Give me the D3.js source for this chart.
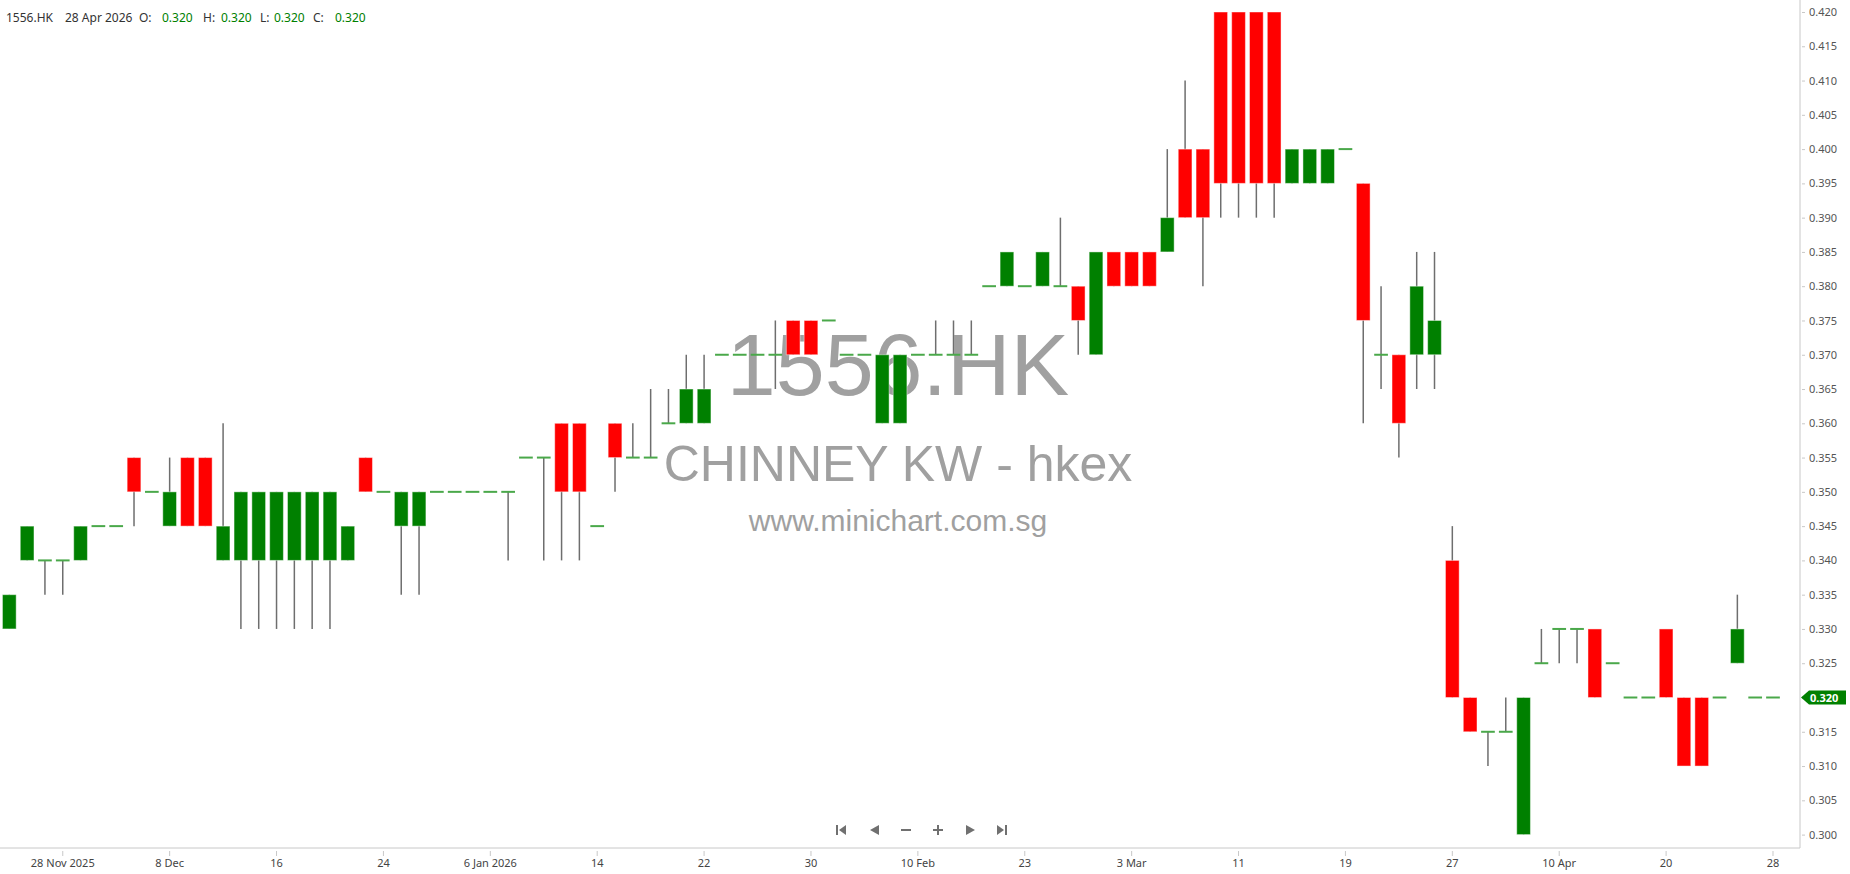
<!DOCTYPE html>
<html>
<head>
<meta charset="utf-8">
<script src="https://cdn.jsdelivr.net/npm/d3@7"></script>
<style>
  body { margin: 0; background: #fff; }
  svg { display: block; font-family: "Noto Sans", "DejaVu Sans", sans-serif; }
</style>
</head>
<body>
<svg id="chart"></svg>
<script>
const width = 1850;
const height = 874;
const plotRight = 1800;
const axisBottomY = 848;

// OHLC per trading day, 25 Nov 2025 .. 28 Apr 2026
const opens = [
  0.330, 0.340, 0.340, 0.340, 0.340, 0.345, 0.345, 0.355, 0.350, 0.345,
  0.355, 0.355, 0.340, 0.340, 0.340, 0.340, 0.340, 0.340, 0.340, 0.340,
  0.355, 0.350, 0.345, 0.345, 0.350, 0.350, 0.350, 0.350, 0.350, 0.355,
  0.355, 0.360, 0.360, 0.345, 0.360, 0.355, 0.355, 0.360, 0.360, 0.360,
  0.370, 0.370, 0.370, 0.370, 0.375, 0.375, 0.375, 0.370, 0.370, 0.360,
  0.360, 0.370, 0.370, 0.370, 0.370, 0.380, 0.380, 0.380, 0.380, 0.380,
  0.380, 0.370, 0.385, 0.385, 0.385, 0.385, 0.400, 0.400, 0.420, 0.420,
  0.420, 0.420, 0.395, 0.395, 0.395, 0.400, 0.395, 0.370, 0.370, 0.370,
  0.370, 0.340, 0.320, 0.315, 0.315, 0.300, 0.325, 0.330, 0.330, 0.330,
  0.325, 0.320, 0.320, 0.330, 0.320, 0.320, 0.320, 0.325, 0.320, 0.320
];
const highs = [
  0.335, 0.345, 0.340, 0.340, 0.345, 0.345, 0.345, 0.355, 0.350, 0.355,
  0.355, 0.355, 0.360, 0.350, 0.350, 0.350, 0.350, 0.350, 0.350, 0.345,
  0.355, 0.350, 0.350, 0.350, 0.350, 0.350, 0.350, 0.350, 0.350, 0.355,
  0.355, 0.360, 0.360, 0.345, 0.360, 0.360, 0.365, 0.365, 0.370, 0.370,
  0.370, 0.370, 0.370, 0.375, 0.375, 0.375, 0.375, 0.370, 0.370, 0.370,
  0.370, 0.370, 0.375, 0.375, 0.375, 0.380, 0.385, 0.380, 0.385, 0.390,
  0.380, 0.385, 0.385, 0.385, 0.385, 0.400, 0.410, 0.400, 0.420, 0.420,
  0.420, 0.420, 0.400, 0.400, 0.400, 0.400, 0.395, 0.380, 0.370, 0.385,
  0.385, 0.345, 0.320, 0.315, 0.320, 0.320, 0.330, 0.330, 0.330, 0.330,
  0.325, 0.320, 0.320, 0.330, 0.320, 0.320, 0.320, 0.335, 0.320, 0.320
];
const lows = [
  0.330, 0.340, 0.335, 0.335, 0.340, 0.345, 0.345, 0.345, 0.350, 0.345,
  0.345, 0.345, 0.340, 0.330, 0.330, 0.330, 0.330, 0.330, 0.330, 0.340,
  0.350, 0.350, 0.335, 0.335, 0.350, 0.350, 0.350, 0.350, 0.340, 0.355,
  0.340, 0.340, 0.340, 0.345, 0.350, 0.355, 0.355, 0.360, 0.360, 0.360,
  0.370, 0.370, 0.370, 0.365, 0.370, 0.370, 0.375, 0.370, 0.370, 0.360,
  0.360, 0.370, 0.370, 0.370, 0.370, 0.380, 0.380, 0.380, 0.380, 0.380,
  0.370, 0.370, 0.380, 0.380, 0.380, 0.385, 0.390, 0.380, 0.390, 0.390,
  0.390, 0.390, 0.395, 0.395, 0.395, 0.400, 0.360, 0.365, 0.355, 0.365,
  0.365, 0.320, 0.315, 0.310, 0.315, 0.300, 0.325, 0.325, 0.325, 0.320,
  0.325, 0.320, 0.320, 0.320, 0.310, 0.310, 0.320, 0.325, 0.320, 0.320
];
const closes = [
  0.335, 0.345, 0.340, 0.340, 0.345, 0.345, 0.345, 0.350, 0.350, 0.350,
  0.345, 0.345, 0.345, 0.350, 0.350, 0.350, 0.350, 0.350, 0.350, 0.345,
  0.350, 0.350, 0.350, 0.350, 0.350, 0.350, 0.350, 0.350, 0.350, 0.355,
  0.355, 0.350, 0.350, 0.345, 0.355, 0.355, 0.355, 0.360, 0.365, 0.365,
  0.370, 0.370, 0.370, 0.370, 0.370, 0.370, 0.375, 0.370, 0.370, 0.370,
  0.370, 0.370, 0.370, 0.370, 0.370, 0.380, 0.385, 0.380, 0.385, 0.380,
  0.375, 0.385, 0.380, 0.380, 0.380, 0.390, 0.390, 0.390, 0.395, 0.395,
  0.395, 0.395, 0.400, 0.400, 0.400, 0.400, 0.375, 0.370, 0.360, 0.380,
  0.375, 0.320, 0.315, 0.315, 0.315, 0.320, 0.325, 0.330, 0.330, 0.320,
  0.325, 0.320, 0.320, 0.320, 0.310, 0.310, 0.320, 0.330, 0.320, 0.320
];

const tickIdx = [3, 9, 15, 21, 27, 33, 39, 45, 51, 57, 63, 69, 75, 81, 87, 93, 99];
const tickLabels = ["28 Nov 2025", "8 Dec", "16", "24", "6 Jan 2026", "14", "22", "30",
  "10 Feb", "23", "3 Mar", "11", "19", "27", "10 Apr", "20", "28"];
const priceTicks = [0.300, 0.305, 0.310, 0.315, 0.320, 0.325, 0.330, 0.335, 0.340,
  0.345, 0.350, 0.355, 0.360, 0.365, 0.370, 0.375, 0.380, 0.385, 0.390, 0.395,
  0.400, 0.405, 0.410, 0.415, 0.420];
const lastPrice = 0.320;

const upColor = "#008000";
const downColor = "#ff0000";

let svg = d3.select("#chart")
  .attr("width", width)
  .attr("height", height);

svg.append("rect").attr("width", width).attr("height", height).attr("fill", "#fff");

let x = d3.scaleBand()
  .domain(d3.range(opens.length))
  .range([0.4, 1781.9])
  .paddingInner(0.23)
  .paddingOuter(0.115);

let y = d3.scaleLinear()
  .domain([0.300, 0.420])
  .range([834.6, 12]);

const cx = i => x(i) + x.bandwidth() / 2;

// watermark
let wm = svg.append("g").attr("fill", "#a0a0a0").attr("text-anchor", "middle")
  .style("font-family", "'Liberation Sans', Arial, sans-serif");
wm.append("text").attr("x", 898).attr("y", 395).attr("font-size", 88).text("1556.HK");
wm.append("text").attr("x", 898).attr("y", 481).attr("font-size", 50).text("CHINNEY KW - hkex");
wm.append("text").attr("x", 898).attr("y", 531).attr("font-size", 30).text("www.minichart.com.sg");

// frame
svg.append("line").attr("x1", 0).attr("x2", plotRight).attr("y1", axisBottomY).attr("y2", axisBottomY)
  .attr("stroke", "#c8c8c8");
svg.append("line").attr("x1", plotRight).attr("x2", plotRight).attr("y1", 0).attr("y2", axisBottomY)
  .attr("stroke", "#c8c8c8");

// axes
let gx = svg.append("g")
  .attr("transform", `translate(0, ${axisBottomY})`)
  .call(d3.axisBottom(x).tickValues(tickIdx).tickFormat((d, i) => tickLabels[i]).tickSize(6).tickPadding(5));
gx.select(".domain").remove();
gx.selectAll(".tick line").attr("stroke", "#c8c8c8").attr("y1", 3).attr("y2", 8);
gx.selectAll(".tick text").attr("fill", "#444").style("font-size", "11px").style("font-family", "'Noto Sans', sans-serif");

let gy = svg.append("g")
  .attr("transform", `translate(${plotRight}, 0)`)
  .call(d3.axisRight(y).tickValues(priceTicks).tickFormat(d3.format(".3f")).tickSize(5).tickPadding(4));
gy.select(".domain").remove();
gy.selectAll(".tick line").attr("stroke", "#c8c8c8").attr("x1", 2);
gy.selectAll(".tick text").attr("fill", "#555").style("font-size", "11px").style("font-family", "'Noto Sans', sans-serif");

// candles
const idx = d3.range(opens.length);

svg.append("g").selectAll("line")
  .data(idx.filter(i => highs[i] > lows[i]))
  .enter().append("line")
  .attr("x1", cx).attr("x2", cx)
  .attr("y1", i => y(highs[i]))
  .attr("y2", i => y(lows[i]))
  .attr("stroke", "#6e6e6e")
  .attr("stroke-width", 1.5);

svg.append("g").selectAll("rect")
  .data(idx.filter(i => opens[i] !== closes[i]))
  .enter().append("rect")
  .attr("x", i => x(i))
  .attr("width", x.bandwidth())
  .attr("y", i => y(Math.max(opens[i], closes[i])))
  .attr("height", i => y(Math.min(opens[i], closes[i])) - y(Math.max(opens[i], closes[i])))
  .attr("fill", i => closes[i] > opens[i] ? upColor : downColor)
  .attr("stroke", "#fff")
  .attr("stroke-opacity", 0.45)
  .attr("stroke-width", 1);

svg.append("g").selectAll("line")
  .data(idx.filter(i => opens[i] === closes[i]))
  .enter().append("line")
  .attr("x1", i => x(i))
  .attr("x2", i => x(i) + x.bandwidth())
  .attr("y1", i => y(closes[i]))
  .attr("y2", i => y(closes[i]))
  .attr("stroke", "#4aa84a")
  .attr("stroke-width", 2);

// last price marker
const ly = y(lastPrice);
svg.append("path")
  .attr("d", `M${plotRight + 1},${ly} L${plotRight + 9},${ly - 7} L${width - 4},${ly - 7} L${width - 4},${ly + 7} L${plotRight + 9},${ly + 7} Z`)
  .attr("fill", upColor);
svg.append("text")
  .attr("x", plotRight + 10).attr("y", ly + 4)
  .attr("fill", "#fff").style("font-size", "11px").style("font-weight", "bold")
  .text(d3.format(".3f")(lastPrice));

// header
let hdr = svg.append("text").attr("y", 22).style("font-size", "12px");
const hdrParts = [
  [6, "1556.HK", "#333"], [65, "28 Apr 2026", "#333"],
  [139, "O:", "#333"], [162, "0.320", upColor],
  [203, "H:", "#333"], [221, "0.320", upColor],
  [260, "L:", "#333"], [274, "0.320", upColor],
  [313, "C:", "#333"], [335, "0.320", upColor]
];
hdr.selectAll("tspan").data(hdrParts).enter().append("tspan")
  .attr("x", d => d[0]).attr("fill", d => d[2]).text(d => d[1]);

// navigation buttons
const navY = 830;
let nav = svg.append("g").attr("fill", "#707070");
nav.append("rect").attr("x", 836).attr("y", navY - 5).attr("width", 2).attr("height", 10);
nav.append("path").attr("d", `M846,${navY - 5} L846,${navY + 5} L839,${navY} Z`);
nav.append("path").attr("d", `M879,${navY - 5} L879,${navY + 5} L870,${navY} Z`);
nav.append("rect").attr("x", 901).attr("y", navY - 1).attr("width", 10).attr("height", 2);
nav.append("rect").attr("x", 933).attr("y", navY - 1).attr("width", 10).attr("height", 2);
nav.append("rect").attr("x", 937).attr("y", navY - 5).attr("width", 2).attr("height", 10);
nav.append("path").attr("d", `M966,${navY - 5} L966,${navY + 5} L975,${navY} Z`);
nav.append("path").attr("d", `M997,${navY - 5} L997,${navY + 5} L1004,${navY} Z`);
nav.append("rect").attr("x", 1005).attr("y", navY - 5).attr("width", 2).attr("height", 10);
</script>
</body>
</html>
